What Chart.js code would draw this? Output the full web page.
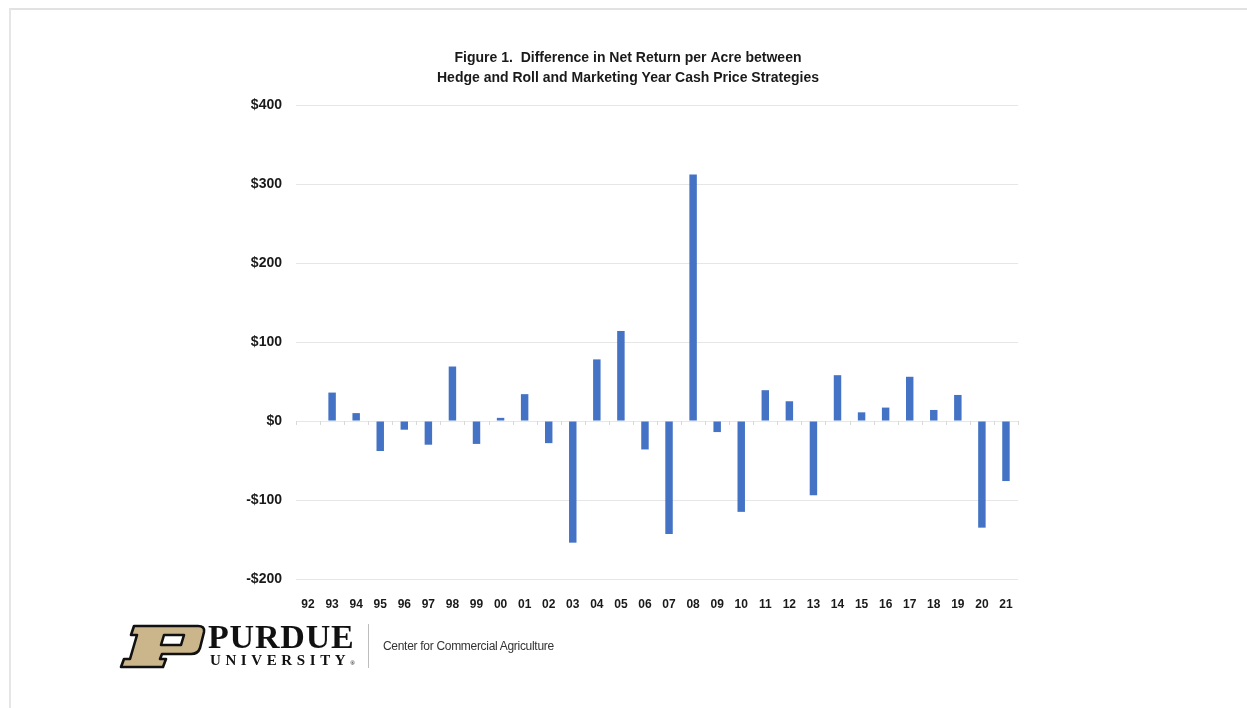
<!DOCTYPE html>
<html>
<head>
<meta charset="utf-8">
<script src="https://cdn.jsdelivr.net/npm/chart.js@4.4.1/dist/chart.umd.min.js"></script>
<style>
  html, body { margin: 0; padding: 0; background: #ffffff; }
  body { width: 1247px; height: 708px; position: relative; overflow: hidden; }
  #frame { position: absolute; left: 9px; top: 8px; right: 0; bottom: 0; border-top: 2px solid #e2e2e2; border-left: 2px solid #e6e6e6; }
  #wrap { position: absolute; left: 0; top: 0; width: 1247px; height: 708px; }
  #logo { position: absolute; left: 118px; top: 622px; width: 480px; height: 48px; }
  #purdue { position: absolute; left: 90px; top: -2px; font-family: "Liberation Serif", "DejaVu Serif", serif; font-weight: bold; font-size: 34px; line-height: 33px; color: #111; letter-spacing: 0.8px; white-space: nowrap; }
  #univ { position: absolute; left: 92px; top: 30px; font-family: "Liberation Serif", "DejaVu Serif", serif; font-weight: bold; font-size: 15px; line-height: 16px; color: #111; letter-spacing: 4.6px; white-space: nowrap; }
  #divider { position: absolute; left: 250px; top: 2px; width: 1px; height: 44px; background: #bdbdbd; }
  #center { position: absolute; left: 265px; top: 16px; font-family: "Liberation Sans", Arial, sans-serif; font-size: 12px; line-height: 16px; color: #333; letter-spacing: -0.3px; white-space: nowrap; }
</style>
</head>
<body>
<div id="frame"></div>
<div id="wrap"><canvas id="c" width="1247" height="708"></canvas></div>
<div id="logo">
  <svg width="90" height="46" style="position:absolute;left:0;top:2px" viewBox="0 0 90 46">
    <path d="M20 2 L80 2 Q87 2 86 8 L82 24 Q80 30 73 30 L44 30 L42 35 L48 35 L45 43 L3 43 L6 35 L12 35 L19 11 L13 11 L16 2 Z M46 11 L66 11 L63 21 L43 21 Z"
          fill="#CBB68B" fill-rule="evenodd" stroke="#111" stroke-width="2.6" stroke-linejoin="round"/>
  </svg>
  <div id="purdue">PURDUE</div>
  <div id="univ">UNIVERSITY<span style="font-size:6px;letter-spacing:0">&#174;</span></div>
  <div id="divider"></div>
  <div id="center">Center for Commercial Agriculture</div>
</div>
<script>
const categories = ["92","93","94","95","96","97","98","99","00","01","02","03","04","05","06","07","08","09","10","11","12","13","14","15","16","17","18","19","20","21"];
const differenceValues = [0, 36, 10, -38, -11, -30, 69, -29, 4, 34, -28, -154, 78, 114, -36, -143, 312, -14, -115, 39, 25, -94, 58, 11, 17, 56, 14, 33, -135, -76];
const yTickMin = -200;
const yTickMax = 400;
const yTickStep = 100;
const titleLines = ["Figure 1.  Difference in Net Return per Acre between", "Hedge and Roll and Marketing Year Cash Price Strategies"];

function formatDollar(v) {
  return v < 0 ? "-$" + Math.abs(v) : "$" + v;
}

const zeroTicks = {
  id: "zeroTicks",
  afterDatasetsDraw(chart) {
    const x = chart.scales.x, y = chart.scales.y, ctx = chart.ctx;
    const y0 = y.getPixelForValue(0);
    ctx.save();
    ctx.strokeStyle = "#d9d9d9";
    ctx.lineWidth = 1;
    const n = categories.length;
    for (let i = 0; i <= n; i++) {
      const px = Math.round(x.left + (x.right - x.left) * i / n) + 0.5;
      ctx.beginPath();
      ctx.moveTo(px, y0);
      ctx.lineTo(px, y0 + 4);
      ctx.stroke();
    }
    ctx.restore();
  }
};

new Chart(document.getElementById("c"), {
  type: "bar",
  data: {
    labels: categories,
    datasets: [{
      label: "Difference",
      data: differenceValues,
      backgroundColor: "#4472C4",
      borderWidth: 0,
      barPercentage: 0.31,
      categoryPercentage: 1.0
    }]
  },
  options: {
    responsive: false,
    animation: false,
    devicePixelRatio: 1,
    layout: { padding: { left: 238, right: 229, top: 40, bottom: 99 } },
    plugins: {
      legend: { display: false },
      tooltip: { enabled: false },
      title: {
        display: true,
        text: titleLines,
        color: "#1a1a1a",
        font: { family: "'Liberation Sans', Arial, sans-serif", size: 14, weight: "bold", lineHeight: 1.43 },
        padding: { top: 8, bottom: 17 }
      }
    },
    scales: {
      x: {
        grid: { display: false },
        border: { display: false },
        ticks: {
          color: "#1a1a1a",
          padding: 10,
          maxRotation: 0,
          autoSkip: false,
          font: { family: "'Liberation Sans', Arial, sans-serif", size: 12, weight: "bold" }
        },
        afterFit(s) { s.height = 30; }
      },
      y: {
        min: yTickMin,
        max: yTickMax,
        grid: { color: "#e6e6e6", lineWidth: 1, drawTicks: false },
        border: { display: false },
        ticks: {
          stepSize: yTickStep,
          color: "#1a1a1a",
          padding: 14,
          callback: (v) => formatDollar(v),
          font: { family: "'Liberation Sans', Arial, sans-serif", size: 14, weight: "bold" }
        },
        afterFit(s) { s.width = 58; }
      }
    }
  },
  plugins: [zeroTicks]
});
</script>
</body>
</html>
